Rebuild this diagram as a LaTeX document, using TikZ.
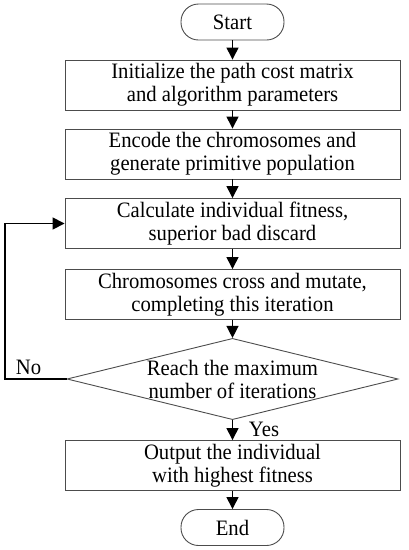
\documentclass[tikz,border=0pt]{standalone}
\usepackage{fontspec}
\setmainfont[FakeStretch = 0.94]{Liberation Serif}
\usetikzlibrary{arrows.meta}
\usetikzlibrary{shapes.geometric}
\tikzset{term/.style = {draw=black!70, line width = 0.9pt, rounded corners = 17.5pt, minimum width = 103, minimum height = 36, inner sep = 0}}
\tikzset{proc/.style = {draw=black!70, line width = 0.9pt, minimum width = 335, minimum height = 50, inner sep = 0, align = center}}
\tikzset{decide/.style = {draw=black!70, line width = 0.9pt, diamond, aspect = 4, minimum width = 331, minimum height = 81, inner sep = 0, align = center}}
\tikzset{flow/.style = {line width = 1.3pt, -{Triangle[width = 12pt, length = 12pt]}}}
\tikzset{feed/.style = {line width = 1.6pt, -{Triangle[width = 12pt, length = 12pt]}}}

\begin{document}
\begin{tikzpicture}[x = 1pt, y = -1pt, font = \fontsize{22}{23}\selectfont]
      \useasboundingbox (0, 0) rectangle (408, 550);

      \node [term] (start) at (232.5, 22) {Start};
      \node [proc] (init) at (232.5, 85) {Initialize the path cost matrix\\and algorithm parameters};
      \node [proc] (encode) at (232.5, 154) {Encode the chromosomes and\\generate primitive population};
      \node [proc] (fitness) at (232.5, 223.5) {Calculate individual fitness,\\superior bad discard};
      \node [proc] (cross) at (232.5, 294.5) {Chromosomes cross and mutate,\\completing this iteration};
      \node [decide] (reach) at (232.5, 379) {Reach the maximum\\number of iterations};
      \node [proc] (output) at (232.5, 465.5) {Output the individual\\with highest fitness};
      \node [term] (stop) at (232.5, 527.5) {End};

      \draw [flow] (start) -- (init);
      \draw [flow] (init) -- (encode);
      \draw [flow] (encode) -- (fitness);
      \draw [flow] (fitness) -- (cross);
      \draw [flow] (cross) -- (reach);
      \draw [flow] (reach) -- (output);
      \draw [flow] (output) -- (stop);

      \coordinate (loop) at (5, 379);
      \draw [feed] (reach.west) -- (loop) |- (fitness.west);

      \node (no) at (28.5, 367) {No};
      \node (yes) at (264, 429) {Yes};
    \end{tikzpicture}
\end{document}
